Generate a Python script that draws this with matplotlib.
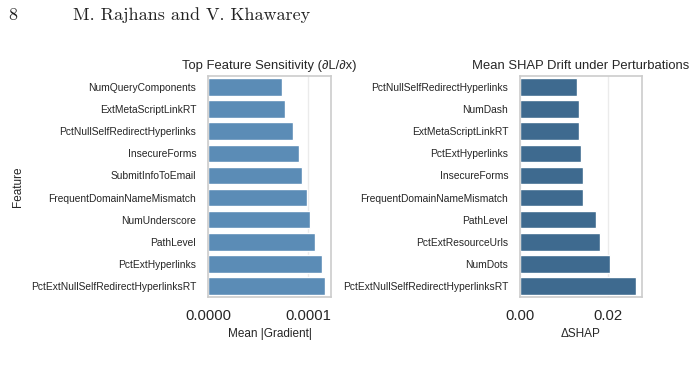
import matplotlib
matplotlib.use("Agg")
import matplotlib.pyplot as plt

grad_features = ["NumQueryComponents", "ExtMetaScriptLinkRT", "PctNullSelfRedirectHyperlinks",
                 "InsecureForms", "SubmitInfoToEmail", "FrequentDomainNameMismatch",
                 "NumUnderscore", "PathLevel", "PctExtHyperlinks", "PctExtNullSelfRedirectHyperlinksRT"]
grad_values = [0.744e-4, 0.765e-4, 0.85e-4, 0.906e-4, 0.94e-4, 0.99e-4,
               1.02e-4, 1.07e-4, 1.14e-4, 1.17e-4]

shap_features = ["PctNullSelfRedirectHyperlinks", "NumDash", "ExtMetaScriptLinkRT",
                 "PctExtHyperlinks", "InsecureForms", "FrequentDomainNameMismatch",
                 "PathLevel", "PctExtResourceUrls", "NumDots", "PctExtNullSelfRedirectHyperlinksRT"]
shap_values = [0.01293, 0.0133, 0.01345, 0.01375, 0.01437, 0.01432,
               0.01726, 0.01824, 0.02052, 0.02638]

grad_ticks = [0.0, 0.0001]
grad_ticklabels = ["0.0000", "0.0001"]
shap_ticks = [0.0, 0.02]
shap_ticklabels = ["0.00", "0.02"]

SANS = ["Liberation Sans", "DejaVu Sans"]
plt.rcParams["font.family"] = SANS

fig = plt.figure(figsize=(6.96, 3.78), dpi=100)
fig.patch.set_facecolor("white")

W, H = 696, 378
def rect(x0, y0, x1, y1):
    return [x0 / W, 1 - y1 / H, (x1 - x0) / W, (y1 - y0) / H]

ax1 = fig.add_axes(rect(208, 76, 331, 297))
ax2 = fig.add_axes(rect(520, 76, 642, 297))

def style(ax, feats, vals, color, ticks, ticklabels, xlabel, title, ylabel):
    y = list(range(len(feats)))
    ax.barh(y, vals, height=0.8, color=color, edgecolor="white", linewidth=1.0, zorder=2)
    ax.set_yticks(y)
    ax.set_yticklabels(feats, fontsize=7.4, color="#262626")
    ax.set_ylim(len(feats) - 0.5, -0.5)
    ax.set_xlim(0, max(vals) * 1.05)
    ax.set_xticks(ticks)
    ax.set_xticklabels(ticklabels, fontsize=10.7, color="#262626")
    ax.tick_params(axis="y", length=0, pad=8.5)
    ax.tick_params(axis="x", length=0, pad=8.5)
    ax.grid(axis="x", color="#ebebeb", linewidth=1.0, zorder=0)
    ax.set_axisbelow(True)
    for s in ax.spines.values():
        s.set_color("#cccccc")
        s.set_linewidth(1.2)
    ax.set_xlabel(xlabel, fontsize=8.5, color="#262626", labelpad=4)
    ax.set_title(title, fontsize=9.4, color="#262626", pad=5)
    if ylabel:
        ax.set_ylabel(ylabel, fontsize=8.5, color="#262626")

style(ax1, grad_features, grad_values, "#5b8cb6", grad_ticks, grad_ticklabels,
      "Mean |Gradient|", "Top Feature Sensitivity (\u2202L/\u2202x)", "Feature")
style(ax2, shap_features, shap_values, "#3e6a8f", shap_ticks, shap_ticklabels,
      "\u0394SHAP", "Mean SHAP Drift under Perturbations", None)

ax1.yaxis.set_label_coords(-184 / 123, 0.5)

fig.text(8 / W, 1 - 15 / H, "8", fontsize=13, family=["cmr10", "DejaVu Serif"],
         va="center", ha="left", color="#222222")
fig.text(73 / W, 1 - 15 / H, "M. Rajhans and V. Khawarey", fontsize=13,
         family=["cmr10", "DejaVu Serif"], va="center", ha="left", color="#222222")

fig.savefig("out.png", dpi=100, facecolor="white")
